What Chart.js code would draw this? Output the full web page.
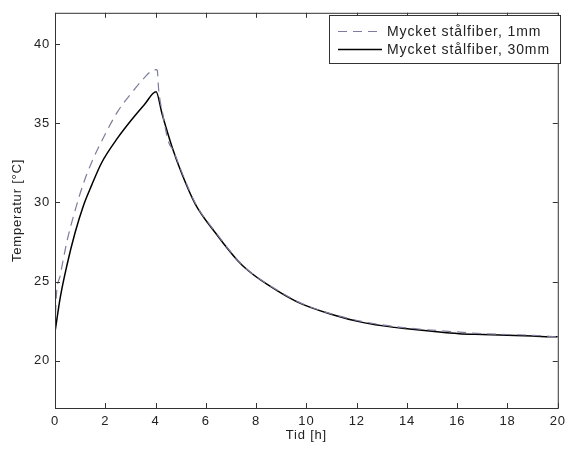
<!DOCTYPE html>
<html>
<head>
<meta charset="utf-8">
<script src="https://cdn.jsdelivr.net/npm/chart.js@4"></script>
<style>
  html, body { margin: 0; padding: 0; background: #fff; }
  #wrap { width: 571px; height: 452px; }
</style>
</head>
<body>
<div id="wrap"><canvas id="tempChart"></canvas></div>
<script>
// Mätserier: tid [h] och temperatur [°C]
const tid1mm = [0, 0.05, 0.21, 0.47, 0.8, 1.13, 1.46, 1.99, 2.51, 3.03, 3.56, 3.82, 4.02, 4.07, 4.12, 4.3, 4.5, 4.7, 5.1, 5.6, 6.4, 7.3, 7.7, 8.5, 9.7, 11.0, 12.3, 13.5, 14.1, 15.2, 16.1, 17.0, 18.0, 19.0, 20.0];
const temp1mm = [22.0, 24.0, 25.4, 27.5, 29.5, 31.2, 32.55, 34.3, 35.8, 36.9, 37.9, 38.3, 38.4, 38.35, 37.2, 35.5, 33.9, 33.3, 31.7, 29.9, 28.1, 26.3, 25.7, 24.8, 23.7, 22.95, 22.45, 22.15, 22.05, 21.9, 21.8, 21.7, 21.65, 21.6, 21.5];

const tid30mm = [0, 0.21, 0.47, 0.8, 1.13, 1.46, 1.85, 2.5, 3.03, 3.56, 4.02, 4.26, 4.66, 5.05, 5.58, 6.37, 7.28, 7.68, 8.46, 9.65, 10.95, 12.27, 13.5, 14.1, 15.0, 16.07, 17.0, 18.0, 19.0, 19.95, 20.0];
const temp30mm = [21.8, 24.0, 26.0, 28.1, 29.8, 31.1, 32.5, 34.1, 35.2, 36.2, 37.0, 35.6, 33.5, 31.8, 29.9, 28.1, 26.3, 25.7, 24.8, 23.7, 22.95, 22.4, 22.1, 22.0, 21.85, 21.7, 21.65, 21.6, 21.55, 21.5, 21.5];

const xTicks = [0, 2, 4, 6, 8, 10, 12, 14, 16, 18, 20];
const yTicks = [20, 25, 30, 35, 40];

const toPoints = (xs, ys) => xs.map((x, i) => ({ x: x, y: ys[i] }));

const fontFam = '"Liberation Sans", Arial, sans-serif';

// lite glesare text, som i MATLAB-figurer
const spacingPlugin = {
  id: 'spacing',
  beforeDraw(chart) { chart.ctx.letterSpacing = '0.8px'; }
};

// ram, inåtriktade tickmarkeringar och förklaring
const boxPlugin = {
  id: 'boxPlugin',
  afterDraw(chart) {
    const ctx = chart.ctx;
    const a = chart.chartArea;
    const xs = chart.scales.x;
    const ys = chart.scales.y;
    ctx.save();
    ctx.strokeStyle = '#333';
    ctx.lineWidth = 1;
    ctx.strokeRect(a.left + 0.5, a.top + 0.5, a.right - a.left, a.bottom - a.top);
    ctx.beginPath();
    xTicks.forEach(v => {
      const px = Math.round(xs.getPixelForValue(v)) + 0.5;
      ctx.moveTo(px, a.bottom); ctx.lineTo(px, a.bottom - 5);
      ctx.moveTo(px, a.top); ctx.lineTo(px, a.top + 5);
    });
    yTicks.forEach(v => {
      const py = Math.round(ys.getPixelForValue(v)) + 0.5;
      ctx.moveTo(a.left, py); ctx.lineTo(a.left + 5, py);
      ctx.moveTo(a.right, py); ctx.lineTo(a.right - 5, py);
    });
    ctx.stroke();

    // förklaring
    const lx = 329, ly = 15, lw = 231, lh = 48;
    ctx.fillStyle = '#fff';
    ctx.fillRect(lx, ly, lw, lh);
    ctx.strokeStyle = '#333';
    ctx.strokeRect(lx + 0.5, ly + 0.5, lw, lh);
    ctx.font = '14px ' + fontFam;
    ctx.letterSpacing = '0.9px';
    ctx.textBaseline = 'middle';
    chart.data.datasets.forEach((ds, i) => {
      const y = ly + 16 + i * 18;
      ctx.beginPath();
      ctx.strokeStyle = ds.borderColor;
      ctx.lineWidth = ds.borderWidth;
      ctx.setLineDash(ds.borderDash || []);
      ctx.moveTo(lx + 9, y + 0.5);
      ctx.lineTo(lx + 53, y + 0.5);
      ctx.stroke();
      ctx.setLineDash([]);
      ctx.fillStyle = '#222';
      ctx.fillText(ds.label, lx + 58, y + 1);
    });
    ctx.restore();
  }
};

new Chart(document.getElementById('tempChart'), {
  type: 'line',
  data: {
    datasets: [
      {
        label: 'Mycket stålfiber, 1mm',
        data: toPoints(tid1mm, temp1mm),
        borderColor: '#7c7c9c',
        borderWidth: 1.2,
        borderDash: [9, 6],
        pointRadius: 0,
        cubicInterpolationMode: 'monotone'
      },
      {
        label: 'Mycket stålfiber, 30mm',
        data: toPoints(tid30mm, temp30mm),
        borderColor: '#000',
        borderWidth: 1.5,
        pointRadius: 0,
        cubicInterpolationMode: 'monotone'
      }
    ]
  },
  options: {
    responsive: true,
    maintainAspectRatio: false,
    animation: false,
    layout: { padding: { top: 8, right: 7, left: 0, bottom: 0 } },
    plugins: {
      legend: { display: false },
      tooltip: { enabled: false }
    },
    scales: {
      x: {
        type: 'linear',
        min: 0,
        max: 20,
        afterBuildTicks: s => { s.ticks = xTicks.map(v => ({ value: v })); },
        afterFit: s => { s.height = 44; },
        grid: { display: false, drawTicks: false },
        border: { display: false },
        ticks: {
          padding: 6,
          color: '#222',
          font: { family: fontFam, size: 13 }
        },
        title: {
          display: true,
          text: 'Tid [h]',
          color: '#222',
          padding: { top: 0, bottom: 9 },
          font: { family: fontFam, size: 13 }
        }
      },
      y: {
        type: 'linear',
        min: 17,
        max: 42,
        afterBuildTicks: s => { s.ticks = yTicks.map(v => ({ value: v })); },
        afterFit: s => { s.width = 55; },
        grid: { display: false, drawTicks: false },
        border: { display: false },
        ticks: {
          padding: 5,
          color: '#222',
          font: { family: fontFam, size: 13 }
        },
        title: {
          display: true,
          text: 'Temperatur [°C]',
          color: '#222',
          padding: { top: 10, bottom: 4 },
          font: { family: fontFam, size: 13 }
        }
      }
    }
  },
  plugins: [spacingPlugin, boxPlugin]
});
</script>
</body>
</html>
